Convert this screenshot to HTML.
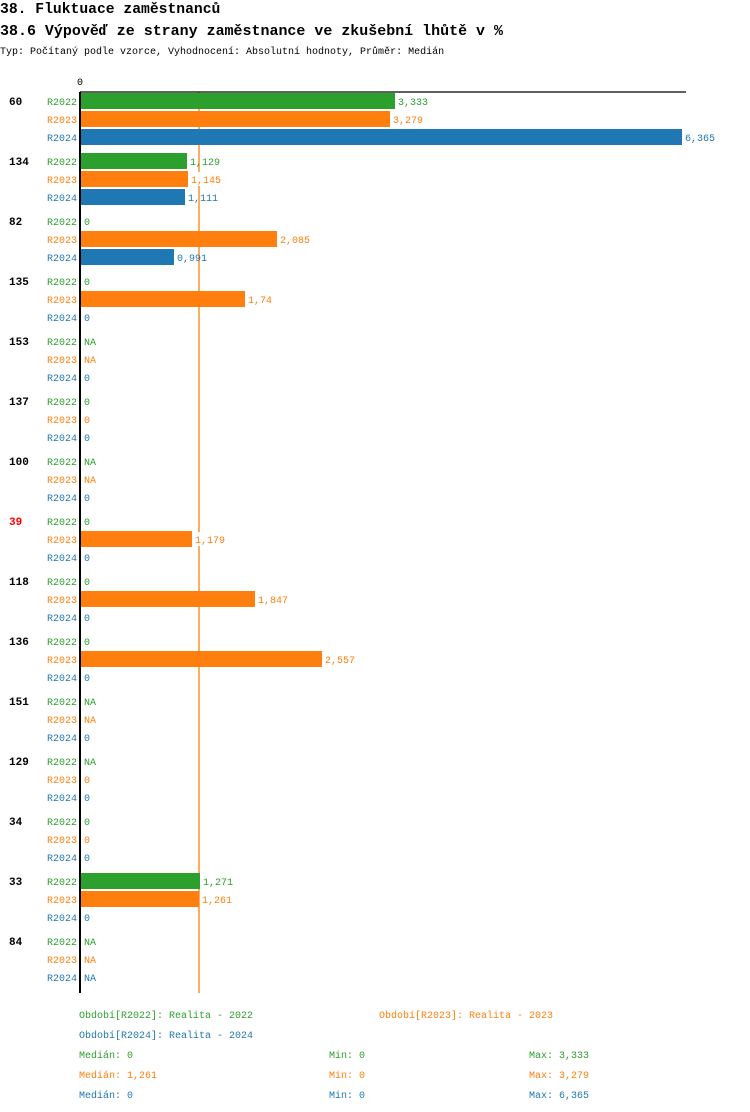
<!DOCTYPE html>
<html><head><meta charset="utf-8"><style>
body{margin:0;background:#fff;}
svg{display:block;font-family:"Liberation Mono",monospace;}
.g{fill:#2ca02c}.o{fill:#ff7f0e}.b{fill:#1f77b4}
.y{font-size:10px;text-anchor:end}
.v{font-size:10px}
.gl{font-size:11px;font-weight:bold}
</style></head><body>
<svg width="750" height="1112" viewBox="0 0 750 1112">
<text x="0" y="13" font-size="14.7" font-weight="bold">38. Fluktuace zaměstnanců</text>
<text x="0" y="35" font-size="15" font-weight="bold" textLength="503" lengthAdjust="spacingAndGlyphs">38.6 Výpověď ze strany zaměstnance ve zkušební lhůtě v %</text>
<text x="0" y="54" font-size="10">Typ: Počítaný podle vzorce, Vyhodnocení: Absolutní hodnoty, Průměr: Medián</text>
<text x="77" y="85" font-size="10">0</text>
<line x1="199" y1="92" x2="199" y2="993" stroke="#ff7f0e" stroke-width="1.3"/>
<rect class="g" x="81" y="93" width="314" height="16"/>
<rect class="o" x="81" y="111" width="309" height="16"/>
<rect class="b" x="81" y="129" width="601" height="16"/>
<rect class="g" x="81" y="153" width="106" height="16"/>
<rect class="o" x="81" y="171" width="107" height="16"/>
<rect class="b" x="81" y="189" width="104" height="16"/>
<rect class="o" x="81" y="231" width="196" height="16"/>
<rect class="b" x="81" y="249" width="93" height="16"/>
<rect class="o" x="81" y="291" width="164" height="16"/>
<rect class="o" x="81" y="531" width="111" height="16"/>
<rect class="o" x="81" y="591" width="174" height="16"/>
<rect class="o" x="81" y="651" width="241" height="16"/>
<rect class="g" x="81" y="873" width="119" height="16"/>
<rect class="o" x="81" y="891" width="118" height="16"/>
<line x1="80" y1="92" x2="686" y2="92" stroke="#000" stroke-width="1.3"/>
<line x1="80" y1="92" x2="80" y2="993" stroke="#000" stroke-width="2"/>
<g class="v">
<text class="g" x="398" y="105">3,333</text>
<text class="o" x="393" y="123">3,279</text>
<text class="b" x="685" y="141">6,365</text>
<text class="g" x="190" y="165">1,129</text>
<rect x="192" y="172" width="30" height="14" fill="#fff"/><text class="o" x="191" y="183">1,145</text>
<text class="b" x="188" y="201">1,111</text>
<text class="g" x="84" y="225">0</text>
<text class="o" x="280" y="243">2,085</text>
<text class="b" x="177" y="261">0,991</text>
<text class="g" x="84" y="285">0</text>
<text class="o" x="248" y="303">1,74</text>
<text class="b" x="84" y="321">0</text>
<text class="g" x="84" y="345">NA</text><text class="o" x="84" y="363">NA</text><text class="b" x="84" y="381">0</text>
<text class="g" x="84" y="405">0</text><text class="o" x="84" y="423">0</text><text class="b" x="84" y="441">0</text>
<text class="g" x="84" y="465">NA</text><text class="o" x="84" y="483">NA</text><text class="b" x="84" y="501">0</text>
<text class="g" x="84" y="525">0</text>
<rect x="194" y="532" width="34" height="14" fill="#fff"/><text class="o" x="195" y="543">1,179</text>
<text class="b" x="84" y="561">0</text>
<text class="g" x="84" y="585">0</text><text class="o" x="258" y="603">1,847</text><text class="b" x="84" y="621">0</text>
<text class="g" x="84" y="645">0</text><text class="o" x="325" y="663">2,557</text><text class="b" x="84" y="681">0</text>
<text class="g" x="84" y="705">NA</text><text class="o" x="84" y="723">NA</text><text class="b" x="84" y="741">0</text>
<text class="g" x="84" y="765">NA</text><text class="o" x="84" y="783">0</text><text class="b" x="84" y="801">0</text>
<text class="g" x="84" y="825">0</text><text class="o" x="84" y="843">0</text><text class="b" x="84" y="861">0</text>
<text class="g" x="203" y="885">1,271</text><text class="o" x="202" y="903">1,261</text><text class="b" x="84" y="921">0</text>
<text class="g" x="84" y="945">NA</text><text class="o" x="84" y="963">NA</text><text class="b" x="84" y="981">NA</text>
</g>
<g class="y">
<text class="g" x="77" y="105">R2022</text><text class="o" x="77" y="123">R2023</text><text class="b" x="77" y="141">R2024</text>
<text class="g" x="77" y="165">R2022</text><text class="o" x="77" y="183">R2023</text><text class="b" x="77" y="201">R2024</text>
<text class="g" x="77" y="225">R2022</text><text class="o" x="77" y="243">R2023</text><text class="b" x="77" y="261">R2024</text>
<text class="g" x="77" y="285">R2022</text><text class="o" x="77" y="303">R2023</text><text class="b" x="77" y="321">R2024</text>
<text class="g" x="77" y="345">R2022</text><text class="o" x="77" y="363">R2023</text><text class="b" x="77" y="381">R2024</text>
<text class="g" x="77" y="405">R2022</text><text class="o" x="77" y="423">R2023</text><text class="b" x="77" y="441">R2024</text>
<text class="g" x="77" y="465">R2022</text><text class="o" x="77" y="483">R2023</text><text class="b" x="77" y="501">R2024</text>
<text class="g" x="77" y="525">R2022</text><text class="o" x="77" y="543">R2023</text><text class="b" x="77" y="561">R2024</text>
<text class="g" x="77" y="585">R2022</text><text class="o" x="77" y="603">R2023</text><text class="b" x="77" y="621">R2024</text>
<text class="g" x="77" y="645">R2022</text><text class="o" x="77" y="663">R2023</text><text class="b" x="77" y="681">R2024</text>
<text class="g" x="77" y="705">R2022</text><text class="o" x="77" y="723">R2023</text><text class="b" x="77" y="741">R2024</text>
<text class="g" x="77" y="765">R2022</text><text class="o" x="77" y="783">R2023</text><text class="b" x="77" y="801">R2024</text>
<text class="g" x="77" y="825">R2022</text><text class="o" x="77" y="843">R2023</text><text class="b" x="77" y="861">R2024</text>
<text class="g" x="77" y="885">R2022</text><text class="o" x="77" y="903">R2023</text><text class="b" x="77" y="921">R2024</text>
<text class="g" x="77" y="945">R2022</text><text class="o" x="77" y="963">R2023</text><text class="b" x="77" y="981">R2024</text>
</g>
<g class="gl">
<text x="9" y="105">60</text><text x="9" y="165">134</text><text x="9" y="225">82</text>
<text x="9" y="285">135</text><text x="9" y="345">153</text><text x="9" y="405">137</text>
<text x="9" y="465">100</text><text x="9" y="525" fill="#ff0000">39</text><text x="9" y="585">118</text>
<text x="9" y="645">136</text><text x="9" y="705">151</text><text x="9" y="765">129</text>
<text x="9" y="825">34</text><text x="9" y="885">33</text><text x="9" y="945">84</text>
</g>
<g font-size="10">
<text class="g" x="79" y="1018">Období[R2022]: Realita - 2022</text>
<text class="o" x="379" y="1018">Období[R2023]: Realita - 2023</text>
<text class="b" x="79" y="1038">Období[R2024]: Realita - 2024</text>
<text class="g" x="79" y="1058">Medián: 0</text><text class="g" x="329" y="1058">Min: 0</text><text class="g" x="529" y="1058">Max: 3,333</text>
<text class="o" x="79" y="1078">Medián: 1,261</text><text class="o" x="329" y="1078">Min: 0</text><text class="o" x="529" y="1078">Max: 3,279</text>
<text class="b" x="79" y="1098">Medián: 0</text><text class="b" x="329" y="1098">Min: 0</text><text class="b" x="529" y="1098">Max: 6,365</text>
</g>
</svg>
</body></html>
